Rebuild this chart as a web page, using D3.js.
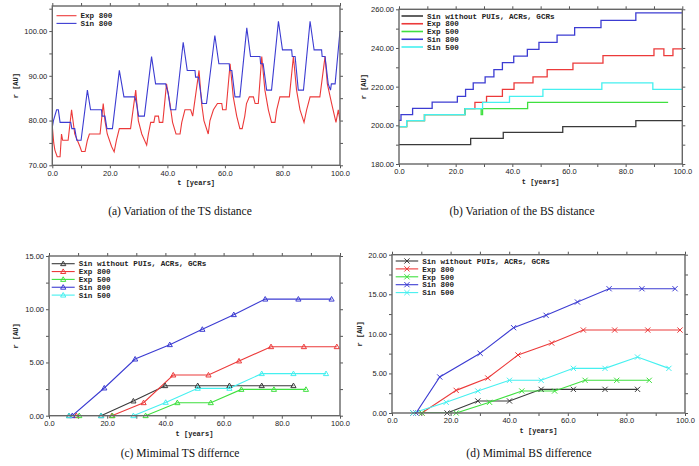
<!DOCTYPE html>
<html>
<head>
<meta charset="utf-8">
<script src="https://cdn.jsdelivr.net/npm/d3@7/dist/d3.min.js"></script>
<style>
  body { margin: 0; background: #fff; }
  svg { display: block; }
  .tick text { font-family: "Liberation Sans", Arial, sans-serif; font-size: 7.5px; fill: #222; }
  .axis path { display: none; }
  .axis line { stroke: #555; stroke-width: 1; }
  .leg { font-family: "Liberation Mono", monospace; font-size: 7.6px; font-weight: bold; fill: #222; }
  .atitle { font-family: "Liberation Mono", monospace; font-size: 7px; font-weight: bold; fill: #222; }
  .cap { font-family: "Liberation Serif", "Times New Roman", serif; font-size: 11.5px; fill: #111; }
</style>
</head>
<body>
<svg width="699" height="466"></svg>
<script>
(() => {
  // ---- panel (a): TS distance [t, r]
  const tsExp800 = [[0,78.7],[0.5,75],[0.9,73.4],[1.7,71.9],[2.7,71.9],[3.2,77],[3.6,75.6],[5.5,75.6],[6.7,82.4],[7.8,77],[8.7,75.6],[9.6,74.2],[10.2,73.1],[11.4,73.1],[12.2,75.6],[12.9,77],[16.6,77],[17.7,83.8],[18.3,80],[19.1,77],[20.6,74.2],[21.5,73],[22.3,75.6],[23.3,78.2],[27.2,78.2],[29,86.8],[29.9,80],[31.1,77],[32.8,74.5],[33.4,77],[34.2,79.6],[35.3,79.6],[35.7,81],[36.9,81],[37.2,79.6],[38.4,79.6],[39.7,88.2],[40.9,83.8],[41.8,79.6],[43,77],[44.4,77],[45,79.6],[46.1,82.4],[48.1,82.4],[48.8,81],[51,91.2],[51.9,83.8],[52.7,80],[54.2,77],[54.8,80],[56,82.4],[57.4,83.8],[58.9,83.8],[59.2,82.4],[60.4,82.4],[61.8,92.7],[62.9,85.3],[64.1,81],[65.2,78.2],[66,78.2],[66.9,81],[67.5,83.8],[68.5,85.3],[69.9,85.3],[70.5,83.8],[71.6,83.8],[72.8,94.3],[73.9,86.8],[75.1,82.4],[76.2,79.6],[77.4,79.6],[78,82.4],[79.1,85.3],[82.4,85.3],[83.8,94.3],[84.9,86.8],[86.1,82.4],[87.5,79.6],[88.4,82.4],[89.6,85.3],[93,85.3],[94.8,94.3],[95.6,88.2],[97.1,83.8],[98.6,79.6],[99.4,82.4],[100,80]];
  const tsSin800 = [[0,78.5],[0.4,80],[1.5,82.4],[2.1,82.4],[2.7,79.6],[6.4,79.6],[6.8,78.2],[7.8,78.2],[8.5,75.6],[10,75.6],[12.2,86.8],[13.3,82.4],[17.1,82.4],[17.3,81],[18.3,81],[19,78.2],[20.9,78.2],[23.3,91.2],[24.9,85.3],[28.7,85.3],[29.3,83.8],[30,81],[32,81],[34.5,94.3],[35.9,88.2],[39.4,88.2],[40.3,86],[41.1,82.4],[42.9,82.4],[45.5,97.5],[46.9,91.2],[49.6,91.2],[49.8,89.7],[50.8,89.7],[52.1,83.8],[53.6,83.8],[56.5,99],[57.9,92.7],[61.5,92.7],[61.7,91.2],[62.4,91.2],[63.5,85.3],[65.2,85.3],[67.6,100.7],[68.9,94.3],[72.2,94.3],[72.4,92.7],[73.3,92.7],[74.5,86.8],[76.2,86.8],[78.6,102.2],[80,95.8],[83.2,95.8],[83.4,94.3],[84.4,94.3],[85.5,86.8],[87.3,86.8],[89.6,102.2],[91,95.8],[93.6,95.8],[93.8,94.3],[94.8,94.3],[95.9,88.2],[96.7,86.8],[97,88.2],[98.3,88.2],[100,100]];

  // ---- panel (b): BS distance, steps [t where value starts, r]
  const bsNoPui = [[0,190],[25.3,193.3],[36.8,196.4],[57.8,199.3],[83.6,202.4],[100,202.4]];
  const bsExp800 = [[0,199.3],[2.7,202.4],[9,205.5],[23.3,208.6],[26.8,211.9],[30.9,215],[36.5,218.6],[40.6,222],[47.3,225.1],[52.3,228.8],[61.4,232.2],[72,236],[90,239.5],[93.5,236],[96.7,239.5],[100,239.5]];
  const bsExp500 = [[0,199.3],[2.7,202.4],[9,205.5],[23.3,208.6],[29,205.5],[29.5,208.6],[45.4,211.9],[95,211.9]];
  const bsSin800 = [[0,202.6],[0.7,205.5],[4.8,208.8],[11.7,212],[20.6,215],[23.5,218.6],[26.2,222],[30.4,225.1],[33.5,228.8],[36.5,232.4],[40.5,235.8],[45.3,239.3],[49.4,242.9],[55.8,246.6],[62,250.5],[71.3,254.3],[83.6,258.1],[100,258.1]];
  const bsSin500 = [[0,199.3],[2.7,202.4],[9,205.5],[23.3,208.6],[29.5,211.9],[39,215],[50.8,218.6],[71.6,222],[89.6,218.6],[100,218.6]];

  // ---- panel (c): minimal TS difference
  const tdNoPui = [[6.9,0],[17.9,0],[29,1.38],[39.9,2.82],[51.1,2.82],[62,2.82],[73.1,2.82],[84,2.82]];
  const tdExp800 = [[9.4,0],[21.6,0],[32.5,1.22],[42.7,3.82],[54.8,3.82],[65.3,5.14],[76.3,6.48],[87.6,6.48],[98.9,6.48]];
  const tdExp500 = [[10.4,0],[21.8,0],[33.2,0],[44.1,1.22],[55.6,1.22],[66.1,2.47],[77.3,2.47],[88.3,2.47]];
  const tdSin800 = [[8,0],[19,2.6],[29.6,5.32],[41.5,6.67],[52.7,8.11],[63.5,9.49],[74.3,10.95],[85.7,10.95],[97.1,10.95]];
  const tdSin500 = [[6.9,0],[17.9,0],[29,0],[40.1,1.25],[51.1,2.57],[62,2.57],[73.1,3.95],[84,3.95],[95.2,3.95]];

  // ---- panel (d): minimal BS difference
  const bdNoPui = [[7.2,0],[18.8,0],[29.3,1.52],[40.1,1.52],[50.9,2.99],[61.9,2.99],[72.7,2.99],[83.8,2.99]];
  const bdExp800 = [[10.2,0],[21.9,2.86],[32.7,4.42],[43,7.33],[54.5,8.84],[65.3,10.48],[76,10.48],[87.3,10.48],[98.3,10.48]];
  const bdExp500 = [[10.2,0],[21.9,0],[33.3,1.35],[44.3,2.78],[55.5,2.78],[65.9,4.13],[76.7,4.13],[87.8,4.13]];
  const bdSin800 = [[8.2,0],[16.3,4.55],[30.1,7.54],[41.5,10.78],[52.6,12.34],[63.3,14.02],[74.1,15.7],[85.3,15.7],[96.6,15.7]];
  const bdSin500 = [[7.2,0],[18.5,1.35],[29.3,2.78],[40.1,4.13],[50.9,4.13],[61.9,5.64],[72.7,5.64],[83.8,7.07],[94.5,5.64]];

  const names5 = ["Sin without PUIs, ACRs, GCRs", "Exp 800", "Exp 500", "Sin 800", "Sin 500"];
  const colors = { black: "#3a3a3a", red: "#ec3a3a", green: "#3fe03f", blue: "#3c3cd2", cyan: "#45f0f0" };
  const captions = ["(a) Variation of the TS distance", "(b) Variation of the BS distance",
                    "(c) Mimimal TS differnce", "(d) Mimimal BS difference"];

  const svg = d3.select("svg");
  const fmtX = d3.format(".1f");
  const fmtY = d3.format(".2f");

  const range = (a, b, s) => d3.range(a, b + s / 2, s);

  const drawPanel = (p, idx) => {
    const x = d3.scaleLinear().domain([0, 100]).range([p.left, p.right]);
    const y = d3.scaleLinear().domain(p.yDomain).range([p.bottom, p.top]);
    const g = svg.append("g");

    const xTicks = range(0, 100, 10);
    const yTicks = range(p.yDomain[0], p.yTop, p.yMinor);
    const isMajorX = (v) => Math.abs(v % 20) < 1e-6;
    const isMajorY = (v) => Math.abs(((v - p.yDomain[0]) / p.yMajor) - Math.round((v - p.yDomain[0]) / p.yMajor)) < 1e-6;

    g.append("g").attr("class", "axis")
      .attr("transform", `translate(0,${p.bottom})`)
      .call(d3.axisBottom(x).tickValues(xTicks).tickSize(3).tickPadding(2)
        .tickFormat((v) => isMajorX(v) ? fmtX(v) : ""));
    g.append("g").attr("class", "axis")
      .attr("transform", `translate(0,${p.top})`)
      .call(d3.axisTop(x).tickValues(xTicks).tickSize(3).tickFormat(""));
    g.append("g").attr("class", "axis")
      .attr("transform", `translate(${p.left},0)`)
      .call(d3.axisLeft(y).tickValues(yTicks).tickSize(3).tickPadding(2)
        .tickFormat((v) => isMajorY(v) ? fmtY(v) : ""));
    g.append("g").attr("class", "axis")
      .attr("transform", `translate(${p.right},0)`)
      .call(d3.axisRight(y).tickValues(yTicks).tickSize(3).tickFormat(""));

    const clipId = "clip" + idx;
    g.append("clipPath").attr("id", clipId).append("rect")
      .attr("x", p.left).attr("y", p.top)
      .attr("width", p.right - p.left).attr("height", p.bottom - p.top);

    const plot = g.append("g").attr("clip-path", `url(#${clipId})`);
    const line = d3.line().x((d) => x(d[0])).y((d) => y(d[1])).curve(p.curve || d3.curveLinear);

    p.series.forEach((s) => {
      plot.append("path").datum(s.data)
        .attr("d", line).attr("fill", "none")
        .attr("stroke", s.color).attr("stroke-width", p.lw || 1.1);
      if (p.marker) {
        drawMarkers(g, s.data.map((d) => [x(d[0]), y(d[1])]), p.marker, s.color);
      }
    });

    g.append("rect")
      .attr("x", p.left).attr("y", p.top)
      .attr("width", p.right - p.left).attr("height", p.bottom - p.top)
      .attr("fill", "none").attr("stroke", "#666").attr("stroke-width", 1.4);

    // legend
    p.series.forEach((s, i) => {
      const ly = p.legY + i * p.legStep;
      g.append("line")
        .attr("x1", p.legX).attr("x2", p.legX + p.legLen)
        .attr("y1", ly).attr("y2", ly)
        .attr("stroke", s.color).attr("stroke-width", p.legLw || 1.1);
      if (p.marker) drawMarkers(g, [[p.legX + p.legLen / 2, ly]], p.marker, s.color);
      g.append("text").attr("class", "leg")
        .attr("x", p.legX + p.legLen + 4).attr("y", ly + 2.7)
        .text(s.name);
    });

    g.append("text").attr("class", "atitle")
      .attr("x", (p.left + p.right) / 2 + p.xtDx).attr("y", p.bottom + 20)
      .attr("text-anchor", "middle").text("t [years]");
    g.append("text").attr("class", "atitle")
      .attr("transform", `translate(${p.ytX},${(p.top + p.bottom) / 2}) rotate(-90)`)
      .attr("text-anchor", "middle").text("r [AU]");

    svg.append("text").attr("class", "cap")
      .attr("x", p.capX).attr("y", p.capY)
      .attr("text-anchor", "middle").text(captions[idx]);
  };

  const drawMarkers = (g, pts, type, color) => {
    const r = 2.6;
    pts.forEach(([px, py]) => {
      if (type === "tri") {
        g.append("path")
          .attr("d", `M${px},${py - r}L${px + r},${py + r * 0.75}L${px - r},${py + r * 0.75}Z`)
          .attr("fill", "none").attr("stroke", color).attr("stroke-width", 1);
      } else {
        g.append("path")
          .attr("d", `M${px - r},${py - r}L${px + r},${py + r}M${px - r},${py + r}L${px + r},${py - r}`)
          .attr("fill", "none").attr("stroke", color).attr("stroke-width", 1);
      }
    });
  };

  const fiveSeries = (a, b, c, d, e) => [
    { name: names5[0], color: colors.black, data: a },
    { name: names5[1], color: colors.red, data: b },
    { name: names5[2], color: colors.green, data: c },
    { name: names5[3], color: colors.blue, data: d },
    { name: names5[4], color: colors.cyan, data: e }
  ];

  const panels = [
    { left: 52.3, right: 340, top: 6, bottom: 165.3, yDomain: [70, 105.6], yTop: 105, yMajor: 10, yMinor: 5,
      series: [{ name: "Exp 800", color: colors.red, data: tsExp800 }, { name: "Sin 800", color: colors.blue, data: tsSin800 }],
      legX: 56.5, legY: 15.7, legStep: 7.7, legLen: 20, xtDx: 0, ytX: 18, capX: 180, capY: 215 },
    { left: 399, right: 682.3, top: 9.3, bottom: 164, yDomain: [180, 260], yTop: 260, yMajor: 20, yMinor: 10,
      series: fiveSeries(bsNoPui, bsExp800, bsExp500, bsSin800, bsSin500), curve: d3.curveStepAfter, lw: 1.3, legLw: 1.6,
      legX: 401.5, legY: 16, legStep: 7.75, legLen: 21.5, xtDx: 0, ytX: 366, capX: 522, capY: 215 },
    { left: 49, right: 340, top: 256, bottom: 415.7, yDomain: [0, 15], yTop: 15, yMajor: 5, yMinor: 2.5,
      series: fiveSeries(tdNoPui, tdExp800, tdExp500, tdSin800, tdSin500), marker: "tri",
      legX: 51.7, legY: 263.7, legStep: 7.85, legLen: 23, xtDx: 0, ytX: 18, capX: 180, capY: 457 },
    { left: 392, right: 685, top: 254.7, bottom: 413, yDomain: [0, 20], yTop: 20, yMajor: 5, yMinor: 2.5,
      series: fiveSeries(bdNoPui, bdExp800, bdExp500, bdSin800, bdSin500), marker: "x",
      legX: 395.7, legY: 261, legStep: 7.9, legLen: 22.5, xtDx: 0, ytX: 362, capX: 529, capY: 457 }
  ];

  panels.forEach(drawPanel);
})();
</script>
</body>
</html>
